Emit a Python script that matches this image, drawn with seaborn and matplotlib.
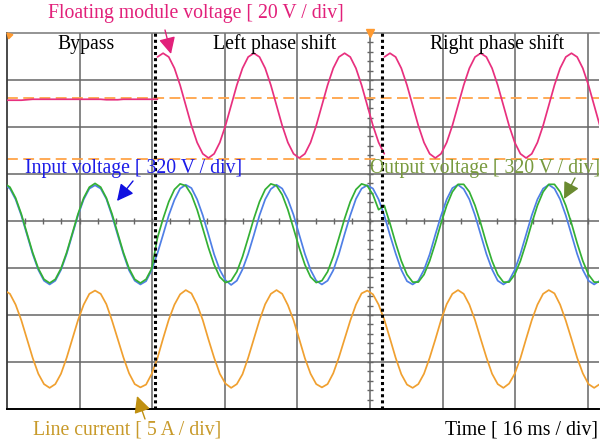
import numpy as np
import pandas as pd
import matplotlib
matplotlib.use('Agg')
import matplotlib.pyplot as plt
import seaborn as sns

# scope capture, sampling clock [ms]
t_start = -0.6
t_step = 1.25
n_samples = 106

# line current [div] (5 A / div)
line_current = [
    -1.47, -1.55, -1.78, -2.11, -2.51, -2.91, -3.25, -3.47, -3.55, -3.47, -3.25, -2.91, -2.51, -2.11, -1.78, -1.55,
    -1.48, -1.55, -1.77, -2.12, -2.51, -2.90, -3.24, -3.47, -3.54, -3.48, -3.25, -2.92, -2.50, -2.10, -1.78, -1.56,
    -1.47, -1.54, -1.78, -2.11, -2.52, -2.91, -3.25, -3.46, -3.55, -3.47, -3.26, -2.91, -2.51, -2.11, -1.77, -1.55,
    -1.47, -1.55, -1.79, -2.11, -2.51, -2.92, -3.25, -3.47, -3.54, -3.47, -3.24, -2.90, -2.51, -2.12, -1.78, -1.54,
    -1.48, -1.56, -1.78, -2.10, -2.50, -2.91, -3.26, -3.48, -3.55, -3.47, -3.25, -2.91, -2.52, -2.11, -1.77, -1.55,
    -1.47, -1.55, -1.78, -2.11, -2.51, -2.90, -3.25, -3.47, -3.55, -3.46, -3.25, -2.92, -2.51, -2.11, -1.78, -1.55,
    -1.47, -1.54, -1.78, -2.12, -2.51, -2.91, -3.24, -3.47, -3.55, -3.47,
]

# input voltage [div] (320 V / div)
input_voltage = [
    0.77, 0.69, 0.46, 0.12, -0.29, -0.70, -1.04, -1.27, -1.35, -1.27, -1.04, -0.70, -0.29, 0.12, 0.46, 0.69,
    0.76, 0.69, 0.47, 0.11, -0.30, -0.70, -1.05, -1.27, -1.35, -1.28, -1.04, -0.69, -0.29, 0.12, 0.45, 0.69,
    0.77, 0.70, 0.46, 0.12, -0.29, -0.71, -1.04, -1.26, -1.36, -1.27, -1.03, -0.70, -0.30, 0.12, 0.46, 0.68,
    0.77, 0.69, 0.46, 0.13, -0.29, -0.70, -1.04, -1.27, -1.35, -1.27, -1.05, -0.70, -0.28, 0.12, 0.47, 0.69,
    0.76, 0.69, 0.46, 0.12, -0.30, -0.69, -1.04, -1.28, -1.35, -1.27, -1.04, -0.71, -0.29, 0.11, 0.46, 0.70,
    0.77, 0.68, 0.46, 0.12, -0.29, -0.70, -1.03, -1.27, -1.35, -1.27, -1.04, -0.70, -0.29, 0.12, 0.46, 0.69,
    0.77, 0.69, 0.46, 0.12, -0.29, -0.70, -1.04, -1.27, -1.35, -1.27,
]

# output voltage [div] (320 V / div): bypass, leading (left shift), lagging (right shift)
output_voltage = [
    0.80, 0.72, 0.49, 0.15, -0.26, -0.67, -1.01, -1.24, -1.32, -1.24, -1.01, -0.67, -0.26, 0.15, 0.49, 0.72,
    0.80, 0.72, 0.49, 0.15, -0.26, -0.67, -1.01, -1.24, -1.32, -1.24, -1.01,
    -0.36, 0.05, 0.41, 0.67, 0.79, 0.75, 0.56, 0.24, -0.16, -0.57, -0.93, -1.19, -1.31, -1.27, -1.08, -0.76,
    -0.36, 0.05, 0.41, 0.67, 0.79, 0.75, 0.56, 0.24, -0.16, -0.57, -0.93, -1.19, -1.31, -1.27, -1.08, -0.76,
    -0.36, 0.05, 0.41, 0.67, 0.79, 0.75, 0.56, 0.24,
    0.33, -0.05, -0.47, -0.85, -1.14, -1.30, -1.30, -1.14, -0.85, -0.47, -0.05, 0.33, 0.62,
    0.78, 0.78, 0.62, 0.33, -0.05, -0.47, -0.85, -1.14, -1.30, -1.30, -1.14, -0.85, -0.47, -0.05, 0.33, 0.62,
    0.78, 0.78, 0.62, 0.33, -0.05, -0.47, -0.85, -1.14, -1.30, -1.30,
]

# floating module voltage [div] (20 V / div), one list per mode
fm_bypass = [
    2.57, 2.57, 2.57, 2.57, 2.58, 2.59, 2.59, 2.59, 2.59, 2.59, 2.59, 2.59, 2.59, 2.59,
    2.59, 2.59, 2.59, 2.59, 2.58, 2.58, 2.58, 2.59, 2.59, 2.59, 2.59, 2.59, 2.59, 2.59,
]
fm_left = [
    3.49,
    3.57, 3.49, 3.25, 2.89, 2.46, 2.03, 1.67, 1.43, 1.34, 1.43, 1.67, 2.03, 2.46, 2.89, 3.25, 3.49,
    3.57, 3.49, 3.25, 2.89, 2.46, 2.03, 1.67, 1.43, 1.34, 1.43, 1.67, 2.03, 2.46, 2.89, 3.25, 3.49,
    3.57, 3.49, 3.25, 2.89, 2.46, 2.03, 1.67, 1.43,
]
fm_right = [
    3.49,
    3.57, 3.49, 3.25, 2.89, 2.46, 2.03, 1.67, 1.43, 1.34, 1.43, 1.67, 2.03, 2.46, 2.89, 3.25, 3.49,
    3.57, 3.49, 3.25, 2.89, 2.46, 2.03, 1.67, 1.43, 1.34, 1.43, 1.67, 2.03, 2.46, 2.89, 3.25, 3.49,
    3.57, 3.49, 3.25, 2.89, 2.46, 2.03,
]

# mode switching instants [ms] and floating module reference levels [div]
mode_switch = [32.6, 82.6]
fm_levels = [2.62, 1.32]

t = t_start + t_step * np.arange(n_samples)
df = pd.DataFrame({'t': t, 'i': line_current, 'vin': input_voltage, 'vout': output_voltage})

sns.set_style('white')
plt.rcParams['font.family'] = ['Liberation Serif', 'DejaVu Serif']

W, H = 600, 445
fig = plt.figure(figsize=(6, 4.45), dpi=100)
ax = fig.add_axes([7 / W, 36 / H, 592 / W, 376 / H])

# grid (16 ms / div, 8 div vertically)
ax.set_xlim(0, 592 / 72.6 * 16)
ax.set_ylim(-4, 4)
ax.set_xticks(np.arange(16, 130, 16))
ax.set_yticks(np.arange(-3, 4))
ax.tick_params(length=0, labelbottom=False, labelleft=False)
ax.grid(True, color='#666666', lw=1.1)
ax.set_axisbelow(True)
ax.spines['right'].set_visible(False)
ax.spines['top'].set_color('#777777')
ax.spines['top'].set_linewidth(1.1)
ax.spines['left'].set_color('#3a3a3a')
ax.spines['left'].set_linewidth(1.3)
ax.spines['bottom'].set_color('black')
ax.spines['bottom'].set_linewidth(1.4)

# small ticks on centre lines
ax.vlines(np.arange(4, 130, 4), -0.07, 0.07, color='#666666', lw=1.0)
ax.hlines(np.arange(-3.8, 4, 0.2), 80 - 0.7, 80 + 0.7, color='#666666', lw=1.0)

for lv in fm_levels:
    ax.axhline(lv, color='#ffa448', lw=1.3, ls=(0, (6, 3)), zorder=2)

# traces
lw = 1.25
sns.lineplot(data=df, x='t', y='i', ax=ax, color='#f0a030', lw=lw, estimator=None, zorder=3)
sns.lineplot(data=df, x='t', y='vin', ax=ax, color='#4f7fe6', lw=lw, estimator=None, zorder=3)
sns.lineplot(data=df, x='t', y='vout', ax=ax, color='#34b034', lw=lw, estimator=None, zorder=4)
sns.lineplot(x=t[0:28], y=fm_bypass, ax=ax, color='#e8307e', lw=lw, estimator=None, zorder=4)
sns.lineplot(x=t[27:68], y=fm_left, ax=ax, color='#e8307e', lw=lw, estimator=None, zorder=4)
sns.lineplot(x=t[67:106], y=fm_right, ax=ax, color='#e8307e', lw=lw, estimator=None, zorder=4)
ax.set_xlabel('')
ax.set_ylabel('')

for ts in mode_switch:
    ax.axvline(ts, color='black', lw=2.2, ls=(0, (1, 1)), zorder=5)

# trigger markers
ax.plot([80], [4], marker='v', color='#ff9a30', ms=6, clip_on=False, zorder=6)
ax.plot([0.4], [3.95], marker=(3, 0, 45), color='#ff9a30', ms=5, clip_on=False, zorder=6)


def fp(x, y):
    return (x / W, 1 - y / H)


fs = 14.2
fig.text(*fp(48, 18), 'Floating module voltage [ 20 V / div]', color='#e2207a', fontsize=fs, va='baseline')
fig.text(*fp(57, 49), 'Bypass', color='black', fontsize=fs, va='baseline')
fig.text(*fp(213, 49), 'Left phase shift', color='black', fontsize=fs, va='baseline')
fig.text(*fp(430, 49), 'Right phase shift', color='black', fontsize=fs, va='baseline')
fig.text(*fp(25, 173), 'Input voltage [ 320 V / div]', color='#1c1ce8', fontsize=fs, va='baseline')
fig.text(*fp(370, 173), 'Output voltage [ 320 V / div]', color='#789a3e', fontsize=fs, va='baseline')
fig.text(*fp(33, 435), 'Line current [ 5 A / div]', color='#c89a2a', fontsize=fs, va='baseline')
fig.text(*fp(598, 435), 'Time [ 16 ms / div]', color='black', fontsize=fs, va='baseline', ha='right')

arrows = [
    ((165, 30), (171, 54), '#e2207a'),
    ((133, 181), (117, 201), '#1010e0'),
    ((575, 178), (564, 199), '#6a8a30'),
    ((145, 419), (137, 396), '#c09010'),
]
for tail, tip, c in arrows:
    ax.annotate('', xy=(tip[0], H - tip[1]), xytext=(tail[0], H - tail[1]),
                xycoords='figure pixels', textcoords='figure pixels',
                arrowprops=dict(arrowstyle='-|>,head_length=1.0,head_width=0.5', color=c, lw=1.0,
                                shrinkA=0, shrinkB=0),
                annotation_clip=False)

fig.savefig('out.png', dpi=100)
